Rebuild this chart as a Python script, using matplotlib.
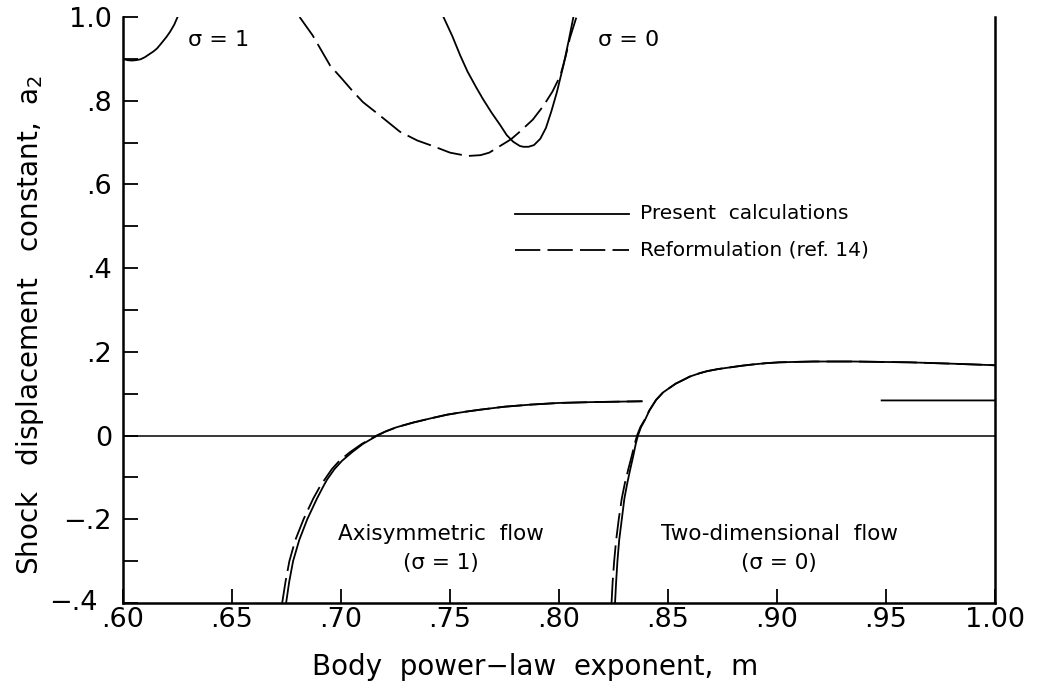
import numpy as np
import matplotlib
matplotlib.use("Agg")
import matplotlib.pyplot as plt
import matplotlib.transforms as mtransforms
from matplotlib.ticker import MultipleLocator, FixedLocator, FixedFormatter

plt.rcParams['font.family'] = ['DejaVu Sans']

# ---------------- data ----------------
# Axisymmetric (sigma = 1), lower branch, present calculations
ax1_m = [0.6748, 0.6762, 0.6780, 0.6808, 0.6845, 0.6890, 0.6920, 0.6936, 0.6970, 0.7005,
         0.7050, 0.7100, 0.7166, 0.7205, 0.7255, 0.733, 0.741, 0.7487, 0.757, 0.764,
         0.775, 0.787, 0.800, 0.815, 0.838, np.nan, 0.948, 0.975, 1.000]
ax1_a = [-0.40, -0.35, -0.30, -0.25, -0.20, -0.15, -0.12, -0.105, -0.08, -0.06,
         -0.04, -0.02, 0.0, 0.01, 0.02, 0.031, 0.041, 0.050, 0.057, 0.062,
         0.069, 0.074, 0.078, 0.080, 0.082, np.nan, 0.084, 0.084, 0.084]
# Axisymmetric (sigma = 1), lower branch, reformulation
ax1r_m = [0.6730, 0.6745, 0.6763, 0.6790, 0.6828, 0.6873, 0.6905, 0.6958, 0.6993, 0.7040,
          0.7095, 0.7163, 0.7205, 0.7255, 0.733, 0.741, 0.7487, 0.757, 0.764,
          0.775, 0.787, 0.800, 0.815, 0.838]
ax1r_a = [-0.40, -0.35, -0.30, -0.25, -0.20, -0.15, -0.12, -0.08, -0.06, -0.04,
          -0.02, 0.0, 0.01, 0.02, 0.031, 0.041, 0.050, 0.057, 0.062,
          0.069, 0.074, 0.078, 0.080, 0.082]

# Two-dimensional (sigma = 0), lower branch, present calculations
td_m = [0.8257, 0.8262, 0.8268, 0.8276, 0.8288, 0.8300, 0.8313, 0.8327, 0.8340, 0.8352,
        0.8362, 0.8376, 0.8394, 0.8415, 0.8445, 0.8477, 0.851, 0.8535, 0.857, 0.860,
        0.8645, 0.868, 0.873, 0.8785, 0.884, 0.889, 0.895, 0.901, 0.908, 0.917,
        0.935, 0.948, 0.961, 0.979, 0.990, 1.000]
td_a = [-0.40, -0.35, -0.30, -0.25, -0.20, -0.15, -0.114, -0.08, -0.05, -0.02,
        0.0, 0.02, 0.037, 0.06, 0.085, 0.103, 0.115, 0.124, 0.133, 0.141,
        0.149, 0.154, 0.159, 0.163, 0.167, 0.170, 0.173, 0.175, 0.176, 0.177,
        0.177, 0.176, 0.175, 0.172, 0.170, 0.168]
# Two-dimensional (sigma = 0), lower branch, reformulation
tdr_m = [0.8241, 0.8246, 0.8253, 0.8262, 0.8274, 0.8288, 0.8302, 0.8318, 0.8333, 0.8347,
         0.8358, 0.8373, 0.8392, 0.8414, 0.8445, 0.8477, 0.851, 0.8535, 0.857, 0.860,
         0.8645, 0.868, 0.873, 0.8785, 0.884, 0.889, 0.895, 0.901, 0.908, 0.917,
         0.935, 0.948, 0.961, 0.979, 0.990, 1.000]
tdr_a = td_a

# sigma = 1, upper branch, present calculations
up1_m = [0.600, 0.602, 0.604, 0.606, 0.608, 0.610, 0.612, 0.614, 0.6156, 0.618,
         0.620, 0.6216, 0.6235, 0.625]
up1_a = [0.900, 0.897, 0.896, 0.897, 0.899, 0.904, 0.911, 0.918, 0.925, 0.940,
         0.953, 0.965, 0.982, 1.000]
# sigma = 1, upper branch, reformulation
up1r_m = [0.681, 0.684, 0.687, 0.691, 0.695, 0.700, 0.705, 0.710, 0.718, 0.727,
          0.735, 0.742, 0.750, 0.758, 0.764, 0.768, 0.773, 0.778, 0.782, 0.788,
          0.793, 0.797, 0.8006, 0.803, 0.805, 0.808]
up1r_a = [1.000, 0.978, 0.956, 0.920, 0.884, 0.855, 0.825, 0.797, 0.764, 0.726,
          0.705, 0.692, 0.676, 0.668, 0.670, 0.676, 0.692, 0.708, 0.726, 0.755,
          0.789, 0.822, 0.860, 0.905, 0.950, 1.000]
# sigma = 0, upper branch, present calculations
up0_m = [0.747, 0.751, 0.7547, 0.758, 0.762, 0.765, 0.769, 0.773, 0.776, 0.779,
         0.782, 0.7836, 0.786, 0.7885, 0.7914, 0.794, 0.7965, 0.799, 0.802, 0.8045, 0.8066]
up0_a = [1.000, 0.955, 0.908, 0.870, 0.832, 0.805, 0.772, 0.742, 0.718, 0.702,
         0.692, 0.690, 0.690, 0.694, 0.709, 0.735, 0.775, 0.820, 0.884, 0.945, 1.000]

xticks = [0.60, 0.65, 0.70, 0.75, 0.80, 0.85, 0.90, 0.95, 1.00]
xticklabels = ['.60', '.65', '.70', '.75', '.80', '.85', '.90', '.95', '1.00']
yticks = [-0.4, -0.2, 0.0, 0.2, 0.4, 0.6, 0.8, 1.0]
yticklabels = ['\u2212.4', '\u2212.2', '0', '.2', '.4', '.6', '.8', '1.0']

# ---------------- figure ----------------
fig = plt.figure(figsize=(10.49, 6.84), dpi=100)
ax = fig.add_axes([0.1173, 0.1184, 0.8312, 0.8567])

lw = 1.3
dash = (14, 4)
ax.plot(ax1_m, ax1_a, color='black', lw=lw)
ax.plot(ax1r_m, ax1r_a, color='black', lw=lw, dashes=dash)
ax.plot(td_m, td_a, color='black', lw=lw)
ax.plot(tdr_m, tdr_a, color='black', lw=lw, dashes=dash)
ax.plot(up1_m, up1_a, color='black', lw=lw)
ax.plot(up1r_m, up1r_a, color='black', lw=lw, dashes=dash)
ax.plot(up0_m, up0_a, color='black', lw=lw)
ax.axhline(0.0, color='black', lw=1.1)

ax.set_xlim(0.60, 1.00)
ax.set_ylim(-0.4, 1.0)

for s in ['left', 'bottom', 'right']:
    ax.spines[s].set_linewidth(1.8)
ax.spines['top'].set_visible(False)

ax.xaxis.set_major_locator(FixedLocator(xticks))
ax.xaxis.set_major_formatter(FixedFormatter(xticklabels))
ax.yaxis.set_major_locator(FixedLocator(yticks))
ax.yaxis.set_major_formatter(FixedFormatter(yticklabels))
ax.yaxis.set_minor_locator(MultipleLocator(0.1))
ax.tick_params(axis='both', which='both', direction='in', labelsize=19.5, width=1.3)
ax.tick_params(axis='x', length=10, pad=3)
ax.tick_params(axis='y', which='both', length=11, pad=8, right=False)
ax.tick_params(axis='x', which='minor', bottom=False)

# nudge the lowest y tick label left so it does not collide with ".60"
first_ytick = ax.yaxis.get_major_ticks()[0]
first_ytick.label1.set_transform(
    first_ytick.label1.get_transform()
    + mtransforms.ScaledTranslation(-14 / 100, 3 / 100, fig.dpi_scale_trans))

ax.set_xlabel('Body  power\u2212law  exponent,  m', fontsize=20)
ax.set_ylabel(r'Shock   displacement   constant,  $\mathregular{a_2}$', fontsize=20)
ax.xaxis.set_label_coords(0.4725, -0.086)
ax.yaxis.set_label_coords(-0.088, 0.474)

# legend drawn manually in data coordinates
leg_x0, leg_x1 = 0.780, 0.832
ax.plot([leg_x0, leg_x1], [0.530, 0.530], color='black', lw=lw)
ax.plot([leg_x0, leg_x1], [0.444, 0.444], color='black', lw=lw, dashes=dash)
ax.text(0.837, 0.530, 'Present  calculations', fontsize=14.5, va='center', ha='left')
ax.text(0.837, 0.444, 'Reformulation (ref. 14)', fontsize=14.5, va='center', ha='left')

ax.text(0.630, 0.945, '\u03c3 = 1', fontsize=16, va='center', ha='left')
ax.text(0.818, 0.945, '\u03c3 = 0', fontsize=16, va='center', ha='left')
ax.text(0.746, -0.235, 'Axisymmetric  flow', fontsize=15.5, va='center', ha='center')
ax.text(0.746, -0.304, '(\u03c3 = 1)', fontsize=15.5, va='center', ha='center')
ax.text(0.901, -0.235, 'Two-dimensional  flow', fontsize=15.5, va='center', ha='center')
ax.text(0.901, -0.304, '(\u03c3 = 0)', fontsize=15.5, va='center', ha='center')

fig.savefig('out.png', dpi=100)
